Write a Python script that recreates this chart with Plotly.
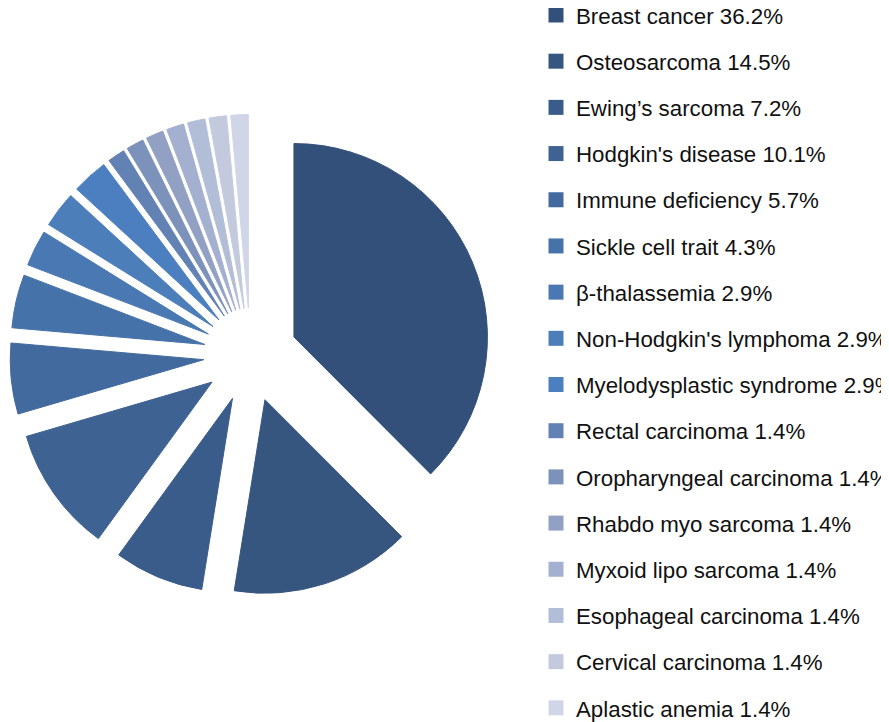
import plotly.graph_objects as go

categories = [
    "Breast cancer", "Osteosarcoma", "Ewing’s sarcoma", "Hodgkin's disease",
    "Immune deficiency", "Sickle cell trait", "β-thalassemia",
    "Non-Hodgkin's lymphoma", "Myelodysplastic syndrome", "Rectal carcinoma",
    "Oropharyngeal carcinoma", "Rhabdo myo sarcoma", "Myxoid lipo sarcoma",
    "Esophageal carcinoma", "Cervical carcinoma", "Aplastic anemia",
]
percents = [36.2, 14.5, 7.2, 10.1, 5.7, 4.3, 2.9, 2.9, 2.9,
            1.4, 1.4, 1.4, 1.4, 1.4, 1.4, 1.4]
colors = [
    "#33507a", "#37567f", "#3a5c8a", "#3e6292", "#426a9e", "#4672aa",
    "#4978b2", "#4c7eba", "#4b7fc0", "#6282b4", "#7c92ba", "#92a0c4",
    "#a4b0d0", "#b2bed8", "#c4cade", "#d0d6e8",
]

labels = [f"{c} {p}%" for c, p in zip(categories, percents)]

W, H = 889, 722
fig = go.Figure()
fig.add_trace(go.Pie(
    labels=labels,
    values=percents,
    sort=False,
    direction="clockwise",
    rotation=0,
    pull=0.243,
    textinfo="none",
    hoverinfo="skip",
    showlegend=False,
    marker=dict(colors=colors, line=dict(color=colors, width=1)),
    domain=dict(x=[1.5 / W, 483.5 / W], y=[1 - 587.5 / H, 1 - 106.5 / H]),
))

# legend entries (one per slice, each in its own group so rows can be spaced)
for i, (lab, col) in enumerate(zip(labels, colors)):
    fig.add_trace(go.Scatter(
        x=[None], y=[None], mode="markers", name=lab,
        legendgroup=f"g{i}", showlegend=True, hoverinfo="skip",
        marker=dict(symbol="square", size=15, color=col),
    ))

fig.update_layout(
    width=W, height=H,
    margin=dict(l=0, r=0, t=0, b=0, autoexpand=False),
    paper_bgcolor="white", plot_bgcolor="white",
    xaxis=dict(visible=False), yaxis=dict(visible=False),
    font=dict(family="Liberation Sans, Arial, sans-serif", size=22.3, color="#111111"),
    legend=dict(
        x=528 / W, xanchor="left",
        y=1 + 14.0 / H, yanchor="top",
        bgcolor="rgba(0,0,0,0)",
        font=dict(size=22.3, color="#111111"),
        tracegroupgap=14.2,
        entrywidth=380, entrywidthmode="pixels",
        maxheight=1000,
    ),
    showlegend=True,
)

fig.write_html("out.html")
